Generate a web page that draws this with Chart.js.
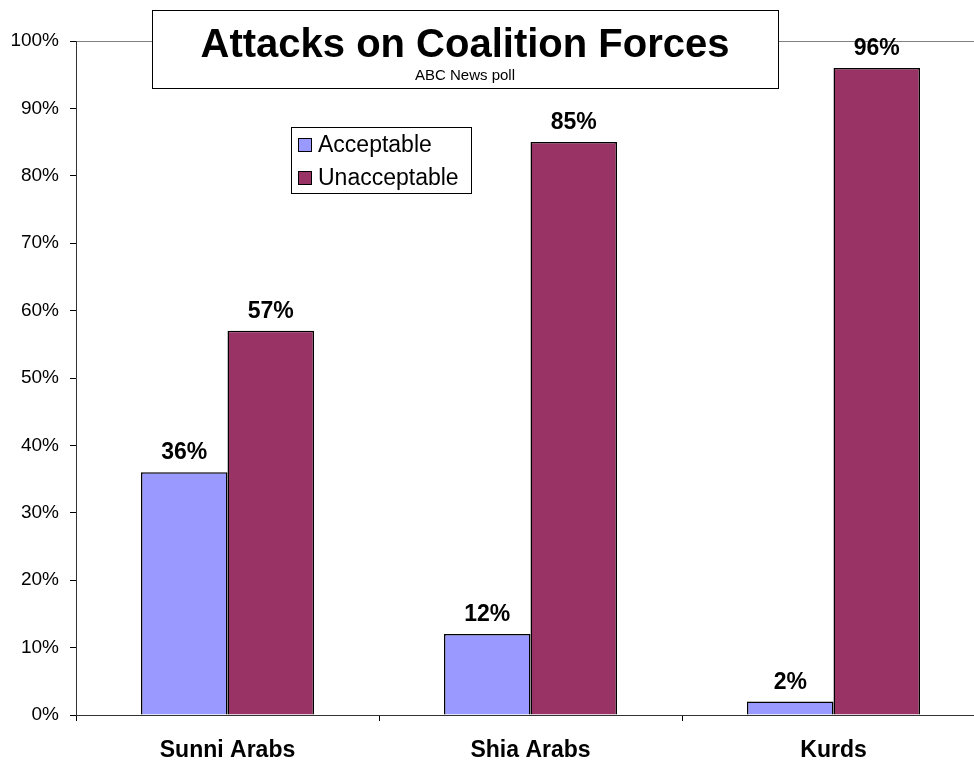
<!DOCTYPE html>
<html>
<head>
<meta charset="utf-8">
<script src="https://cdn.jsdelivr.net/npm/chart.js@4/dist/chart.umd.min.js"></script>
<style>
   html, body { margin: 0; padding: 0; background: #fff; overflow: hidden; }
   #wrap { width: 990px; height: 763px; }
</style>
</head>
<body>
<div id="wrap"><canvas id="attacks-chart" width="990" height="763"></canvas></div>
<script>
// values
const groups = ["Sunni Arabs", "Shia Arabs", "Kurds"];
const acceptable = [36, 12, 2];
const unacceptable = [57, 85, 96];
const yTicks = [0, 10, 20, 30, 40, 50, 60, 70, 80, 90, 100];

const FONT = "'Liberation Sans', Arial, sans-serif";

// title box, legend box and value labels
const decorations = {
   id: "decorations",
   afterDatasetsDraw(chart) {
      const ctx = chart.ctx;
      ctx.save();
      // value labels above the bars
      ctx.font = "bold 23px " + FONT;
      ctx.fillStyle = "#000";
      ctx.textAlign = "center";
      ctx.textBaseline = "alphabetic";
      chart.data.datasets.forEach((ds, i) => {
         chart.getDatasetMeta(i).data.forEach((bar, j) => {
            ctx.fillText(ds.data[j] + "%", bar.x, bar.y - 13);
         });
      });
      ctx.restore();
   },
   afterDraw(chart) {
      const ctx = chart.ctx;
      ctx.save();
      // title box
      ctx.fillStyle = "#fff";
      ctx.fillRect(152, 10, 626, 78);
      ctx.strokeStyle = "#000";
      ctx.lineWidth = 1;
      ctx.strokeRect(152.5, 10.5, 626, 78);
      ctx.fillStyle = "#000";
      ctx.textAlign = "center";
      ctx.font = "bold 40px " + FONT;
      ctx.fillText("Attacks on Coalition Forces", 465, 57);
      ctx.font = "15px " + FONT;
      ctx.fillText("ABC News poll", 465, 80);

      // legend box
      ctx.fillStyle = "#fff";
      ctx.fillRect(291, 127, 180, 66);
      ctx.strokeRect(291.5, 127.5, 180, 66);
      ctx.textAlign = "left";
      ctx.textBaseline = "middle";
      ctx.font = "23px " + FONT;
      chart.data.datasets.forEach((ds, i) => {
         const y = 145 + i * 33;
         ctx.fillStyle = ds.backgroundColor;
         ctx.fillRect(298, y - 7, 13, 13);
         ctx.strokeRect(298.5, y - 6.5, 13, 13);
         ctx.fillStyle = "#000";
         ctx.fillText(ds.label, 318, y + 1);
      });
      ctx.restore();
   },
};

const attacksChart = new Chart(document.getElementById("attacks-chart").getContext("2d"), {
   type: "bar",
   data: {
      labels: groups,
      datasets: [
         {
            label: "Acceptable",
            data: acceptable,
            backgroundColor: "#9999FF",
            borderColor: "#000",
            borderWidth: 1.5,
         },
         {
            label: "Unacceptable",
            data: unacceptable,
            backgroundColor: "#993366",
            borderColor: "#000",
            borderWidth: 1.5,
         },
      ],
   },
   options: {
      responsive: false,
      animation: false,
      devicePixelRatio: 1,
      layout: { padding: { top: 41, right: 5, left: 0, bottom: 0 } },
      datasets: {
         bar: { categoryPercentage: 0.571, barPercentage: 1 },
      },
      plugins: {
         legend: { display: false },
         title: { display: false },
         tooltip: { enabled: false },
      },
      scales: {
         x: {
            afterFit(scale) {
               scale.height = 48;
            },
            border: { color: "#333", width: 1 },
            grid: {
               offset: true,
               drawOnChartArea: false,
               tickLength: 6,
               tickColor: "#000",
            },
            ticks: {
               color: "#000",
               padding: 16,
               font: { family: FONT, size: 23, weight: "bold" },
            },
         },
         y: {
            min: 0,
            max: 100,
            afterFit(scale) {
               scale.width = 76;
            },
            afterBuildTicks(scale) {
               scale.ticks = yTicks.map((v) => ({ value: v }));
            },
            border: { color: "#333", width: 1 },
            grid: {
               color: (c) => (c.tick && c.tick.value === 100 ? "#808080" : "transparent"),
               tickLength: 6,
               tickColor: "#000",
            },
            ticks: {
               color: "#000",
               padding: 11,
               font: { family: FONT, size: 19 },
               callback: (v) => v + "%",
            },
         },
      },
   },
   plugins: [decorations],
});
</script>
</body>
</html>
